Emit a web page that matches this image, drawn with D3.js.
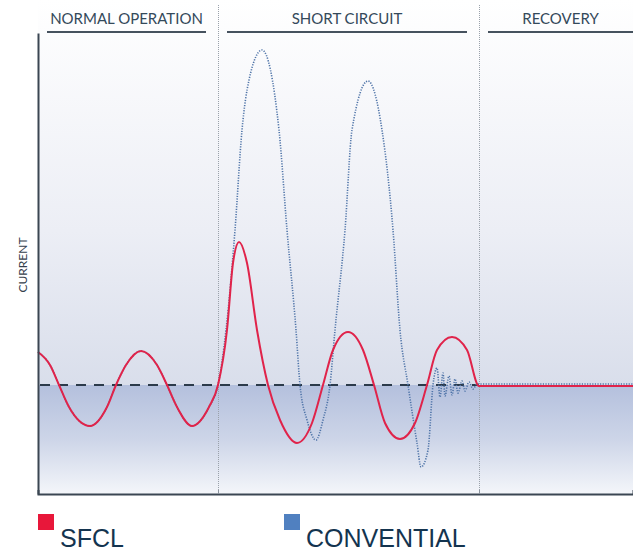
<!DOCTYPE html>
<html>
<head>
<meta charset="utf-8">
<script src="https://cdn.jsdelivr.net/npm/d3@7"></script>
<style>
  body { margin: 0; background: #fff; }
  svg { display: block; }
</style>
</head>
<body>
<div id="chart"></div>
<script>
/* DATA (time in arbitrary units, current relative to the nominal level) */
var phaseNames = ["NORMAL OPERATION", "SHORT CIRCUIT", "RECOVERY"];
var phaseBounds = [0, 180, 441, 595];
var seriesNames = ["SFCL", "CONVENTIAL"];

var normalT = [0, 12, 21, 31, 52, 69, 78, 88, 103, 119, 129, 139, 154, 171, 180];
var normalI = [33, 20, 0, -22, -41, -22, 0, 20, 34, 20, 0, -22, -41, -22, 0];

var sfclT = normalT.concat([189, 195, 201, 209, 219, 230, 242, 259, 274, 285, 295, 310, 325, 336, 347, 362, 377, 389, 399, 414, 429, 441, 595]);
var sfclI = normalI.concat([55, 122, 143, 122, 55, 0, -35, -58, -38, 0, 35, 53, 35, 0, -38, -54, -38, 0, 35, 48, 35, -1, -1]);

var convT = normalT.concat([188, 197, 204, 211, 224, 241, 249, 258, 262, 269, 278, 285, 292, 297, 307, 314, 330, 344, 355, 362, 370, 379, 383, 390, 395,
                            399, 402, 405, 407, 411, 414, 417, 420, 424, 427, 431, 435, 439, 441, 595]);
var convI = normalI.concat([55, 155, 255, 305, 335, 255, 155, 55, 0, -35, -55, -35, 0, 55, 155, 255, 304, 255, 155, 55, 0, -58, -82, -65, 0,
                            17, -12, 12, -11, 9, -10, 6, -8, 4, -6, 3, -4, 1, 1, 1]);

var colors = ["#e8173a", "#5080c0"];

function createChart() {
    var w = 633, h = 554;
    var left = 38, right = 633, top = 33, bottom = 494;

    var xScale = d3.scaleLinear().domain([0, 595]).range([left, right]);
    var yScale = d3.scaleLinear().domain([-109, 352]).range([bottom, top]);

    var svg = d3.select("#chart").append("svg")
        .attr("width", w)
        .attr("height", h);

    /* BACKGROUND GRADIENTS */
    var defs = svg.append("defs");
    var gUp = defs.append("linearGradient").attr("id", "gUp")
        .attr("x1", 0).attr("y1", 0).attr("x2", 0).attr("y2", 1);
    gUp.append("stop").attr("offset", "0%").attr("stop-color", "#ffffff");
    gUp.append("stop").attr("offset", "60%").attr("stop-color", "#eceef5");
    gUp.append("stop").attr("offset", "100%").attr("stop-color", "#d9deeb");
    var gDown = defs.append("linearGradient").attr("id", "gDown")
        .attr("x1", 0).attr("y1", 0).attr("x2", 0).attr("y2", 1);
    gDown.append("stop").attr("offset", "0%").attr("stop-color", "#b4c0dd");
    gDown.append("stop").attr("offset", "50%").attr("stop-color", "#cdd5e8");
    gDown.append("stop").attr("offset", "100%").attr("stop-color", "#f4f6fa");

    svg.append("rect")
        .attr("x", left).attr("y", 0)
        .attr("width", right - left).attr("height", yScale(0))
        .attr("fill", "url(#gUp)");
    svg.append("rect")
        .attr("x", left).attr("y", yScale(0))
        .attr("width", right - left).attr("height", bottom - yScale(0))
        .attr("fill", "url(#gDown)");

    /* PHASE SEPARATORS */
    svg.selectAll(".sep")
        .data(phaseBounds.slice(1, 3))
        .enter().append("line")
        .attr("x1", d => xScale(d) + 0.5).attr("x2", d => xScale(d) + 0.5)
        .attr("y1", 5).attr("y2", bottom)
        .attr("stroke", "#9aa1aa")
        .attr("stroke-width", 1)
        .attr("stroke-dasharray", "1,1");

    /* PHASE HEADERS */
    phaseNames.forEach(function (name, i) {
        var x0 = xScale(phaseBounds[i]) + 9;
        var x1 = i === phaseNames.length - 1 ? w : xScale(phaseBounds[i + 1]) - 12;
        svg.append("line")
            .attr("x1", x0).attr("x2", x1)
            .attr("y1", 32).attr("y2", 32)
            .attr("stroke", "#46525e")
            .attr("stroke-width", 2);
        svg.append("text")
            .attr("x", (x0 + x1) / 2)
            .attr("y", 24)
            .attr("text-anchor", "middle")
            .style("font-family", "Lato, 'Open Sans', sans-serif")
            .style("font-size", "15px")
            .style("fill", "#34495a")
            .text(name);
    });

    /* NOMINAL LEVEL */
    svg.append("line")
        .attr("x1", left + 2).attr("x2", xScale(phaseBounds[2]))
        .attr("y1", yScale(0)).attr("y2", yScale(0))
        .attr("stroke", "#2b3a4a")
        .attr("stroke-width", 2)
        .attr("stroke-dasharray", "10,8");

    /* CURVES */
    var line = d3.line()
        .x(d => xScale(d[0]))
        .y(d => yScale(d[1]))
        .curve(d3.curveMonotoneX);

    svg.append("path")
        .datum(d3.zip(convT, convI))
        .attr("d", line)
        .attr("fill", "none")
        .attr("stroke", "#4f74a8")
        .attr("stroke-width", 1.6)
        .attr("stroke-dasharray", "1.2,1.4");

    svg.append("path")
        .datum(d3.zip(sfclT, sfclI))
        .attr("d", line)
        .attr("fill", "none")
        .attr("stroke", "#e0234a")
        .attr("stroke-width", 2);

    /* AXES */
    var xAxis = d3.axisBottom(xScale).tickValues(phaseBounds.slice(1, 3)).tickSize(-4).tickFormat("");
    var gx = svg.append("g")
        .attr("transform", "translate(0," + bottom + ")")
        .call(xAxis);
    gx.select(".domain").attr("stroke", "#3b4652").attr("stroke-width", 2);
    gx.selectAll(".tick line").attr("stroke", "#8a929c");

    var yAxis = d3.axisLeft(yScale).tickValues([]).tickSizeOuter(0);
    var gy = svg.append("g")
        .attr("transform", "translate(" + left + ",0)")
        .call(yAxis);
    gy.select(".domain").attr("stroke", "#3b4652").attr("stroke-width", 2);

    svg.append("text")
        .attr("transform", "translate(27," + 265 + ") rotate(-90)")
        .attr("text-anchor", "middle")
        .style("font-family", "Lato, 'Open Sans', sans-serif")
        .style("font-size", "12px")
        .style("fill", "#35404c")
        .text("CURRENT");

    /* LEGEND */
    var legendX = [38, 284];
    seriesNames.forEach(function (name, i) {
        svg.append("rect")
            .attr("x", legendX[i]).attr("y", 514)
            .attr("width", 16).attr("height", 16)
            .attr("fill", colors[i]);
        svg.append("text")
            .attr("x", legendX[i] + 22)
            .attr("y", 547)
            .style("font-family", "'Liberation Sans', Arial, sans-serif")
            .style("font-size", "25px")
            .style("fill", "#14344f")
            .text(name);
    });
}

createChart();
</script>
</body>
</html>
